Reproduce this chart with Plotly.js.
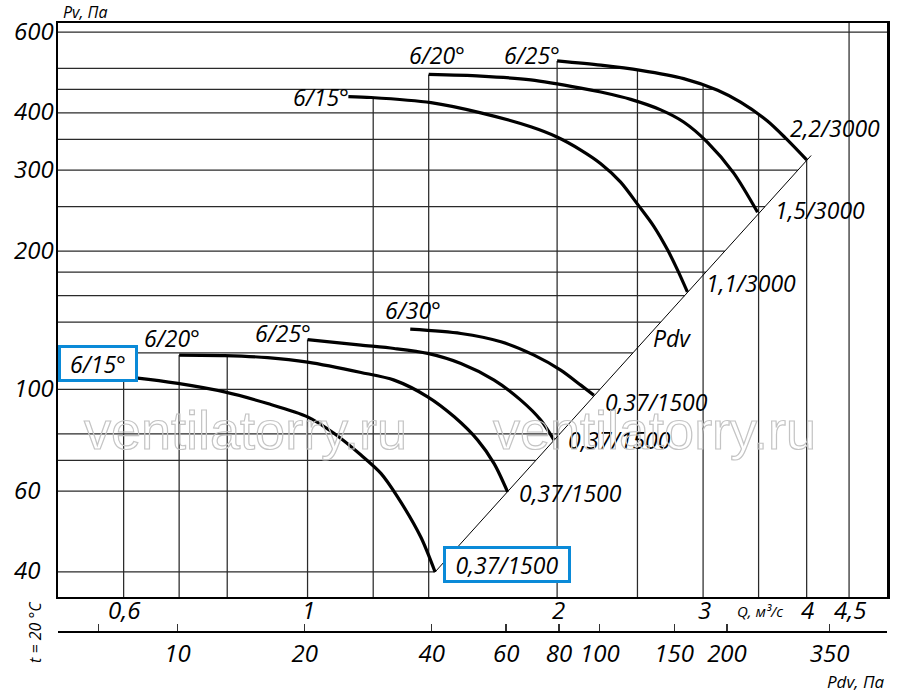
<!DOCTYPE html>
<html><head><meta charset="utf-8">
<script src="https://cdn.plot.ly/plotly-3.0.1.min.js"></script>
<style>html,body{margin:0;padding:0;background:#fff}#chart{width:900px;height:695px}</style>
</head><body><div id="chart"></div><script>
// ---- data (Q in m3/s, Pv in Pa) ----
const q_1500_15 = [0.6, 0.624, 0.6975, 0.794, 0.895, 1.0, 1.077, 1.16, 1.226, 1.284, 1.37, 1.425];
const p_1500_15 = [106.5, 105.8, 103.0, 98.7, 93.1, 87.1, 80.1, 71.9, 65.6, 58.3, 47.6, 40.0];
const q_1500_20 = [0.7, 0.794, 0.895, 1.0, 1.16, 1.272, 1.396, 1.503, 1.604, 1.679, 1.743];
const p_1500_20 = [118.7, 118.4, 117.2, 114.6, 108.8, 104.7, 96.3, 87.1, 77.5, 68.9, 59.8];
const q_1500_25 = [1.0, 1.16, 1.272, 1.396, 1.531, 1.679, 1.808, 1.911, 1.983];
const p_1500_25 = [128.3, 124.8, 122.7, 119.7, 113.8, 104.7, 94.7, 85.7, 77.5];
const q_1500_30 = [1.33, 1.531, 1.711, 1.876, 2.02, 2.136, 2.215];
const p_1500_30 = [135.2, 132.3, 126.9, 118.7, 110.1, 102.1, 97.1];
const q_3000_15 = [1.12, 1.193, 1.409, 1.618, 1.859, 2.002, 2.136, 2.258, 2.386, 2.508, 2.615, 2.719, 2.795, 2.872];
const p_3000_15 = [434, 432, 421, 400, 373, 354, 332, 310.1, 282.7, 251.2, 226.7, 201, 181.8, 163];
const q_3000_20 = [1.4, 1.618, 1.859, 2.136, 2.258, 2.454, 2.667, 2.842, 3.037, 3.265, 3.49];
const p_3000_20 = [485, 481, 472, 453, 444, 428, 406, 382, 345, 296, 243];
const q_3000_25 = [2.0, 2.258, 2.522, 2.842, 3.124, 3.329, 3.587, 3.781, 4.0];
const p_3000_25 = [519, 508, 495, 475, 448, 422, 384, 351, 316];
const q_pdv = [1.425, 4.05];
const p_pdv = [40, 323];

const gridP = [40, 60, 70, 80, 100, 120, 140, 160, 180, 200, 250, 300, 350, 400, 450, 500, 600];
const gridQ = [0.6, 0.7, 0.8, 1, 1.2, 1.4, 2, 2.5, 3, 3.5, 4, 4.5];
const yTickVals = [40, 60, 100, 200, 300, 400, 600];
const yTickText = ['40', '60', '100', '200', '300', '400', '600'];
const xTickVals = [0.6, 1, 2, 3, 4, 4.5];
const xTickText = ['0,6', '1', '2', '3', '4', '4,5'];
const pdvTickVals = [6.5, 10, 20, 40, 60, 80, 100, 150, 200, 350];
const pdvTickText = ['', '10', '20', '40', '60', '80', '100', '150', '200', '350'];

const curveLabels = ['6/15°', '6/20°', '6/25°', '6/30°', '6/15°', '6/20°', '6/25°'];
const motorLabels = ['0,37/1500', '0,37/1500', '0,37/1500', '0,37/1500', '1,1/3000', '1,5/3000', '2,2/3000'];

// ---- helpers ----
const L = Math.log10;
const QMIN = 0.5, QMAX = 5, PMIN = Math.pow(10, 1.5476), PMAX = Math.pow(10, 2.7978);
const curves = [
  [q_1500_15, p_1500_15], [q_1500_20, p_1500_20], [q_1500_25, p_1500_25], [q_1500_30, p_1500_30],
  [q_3000_15, p_3000_15], [q_3000_20, p_3000_20], [q_3000_25, p_3000_25]
];
const envCurves = curves.concat([[q_pdv, p_pdv]]);

function interp(xs, ys, v) {
  let best = null;
  for (let i = 0; i < xs.length - 1; i++) {
    const a = xs[i], b = xs[i + 1];
    const lo = Math.min(a, b) - 1e-9, hi = Math.max(a, b) + 1e-9;
    if (v >= lo && v <= hi) {
      const t = (L(v) - L(a)) / ((L(b) - L(a)) || 1);
      const r = Math.pow(10, L(ys[i]) + t * (L(ys[i + 1]) - L(ys[i])));
      if (best === null || r > best) best = r;
    }
  }
  return best;
}

// gridlines clipped at the envelope of the curves and the Pdv line
const gx = [], gy = [];
gridP.forEach(p => {
  let qe = null;
  envCurves.forEach(c => { const r = interp(c[1], c[0], p); if (r !== null && (qe === null || r > qe)) qe = r; });
  if (qe === null) qe = QMAX;
  gx.push(QMIN, qe, null); gy.push(p, p, null);
});
gridQ.forEach(q => {
  let pe = null;
  envCurves.forEach(c => { const r = interp(c[0], c[1], q); if (r !== null && (pe === null || r > pe)) pe = r; });
  if (pe === null) pe = PMAX;
  gx.push(q, q, null); gy.push(PMIN, pe, null);
});

const FONT = '"Open Sans", "DejaVu Sans", sans-serif';
const fnt = (s, c) => ({ family: FONT, size: s, color: c || '#000', style: 'italic' });

const traces = [];
traces.push({ x: gx, y: gy, mode: 'lines', line: { color: '#2a2a2a', width: 1.25 }, hoverinfo: 'skip', showlegend: false, connectgaps: false });
traces.push({ x: q_pdv, y: p_pdv, mode: 'lines', line: { color: '#000', width: 1 }, hoverinfo: 'skip', showlegend: false });
curves.forEach(c => traces.push({ x: c[0], y: c[1], mode: 'lines', line: { color: '#000', width: 3.2, shape: 'spline', smoothing: 0.8 }, hoverinfo: 'skip', showlegend: false }));
traces.push({ x: pdvTickVals, y: pdvTickVals.map(() => 100), xaxis: 'x2', yaxis: 'y', mode: 'markers', marker: { size: 0.1, opacity: 0 }, hoverinfo: 'skip', showlegend: false });

// label placement (Q, P) per curve: name label and motor label
const nameAt = [[0.558, 113.8], [0.686, 129.3], [0.934, 132.6], [1.340, 148.8], [1.038, 433], [1.433, 535], [1.866, 535]];
const motorAt = [[1.738, 41.6], [2.073, 59.4], [2.381, 77.5], [2.633, 93.8], [3.427, 170.4], [4.152, 245.8], [4.328, 370.8]];
const BLUE = '#0a8ad8';

const ann = [];
curveLabels.forEach((t, i) => {
  const a = { text: t, x: L(nameAt[i][0]), y: L(nameAt[i][1]), xref: 'x', yref: 'y', showarrow: false, font: fnt(23), xanchor: 'center', yanchor: 'middle' };
  if (i === 0) Object.assign(a, { bgcolor: '#fff', bordercolor: BLUE, borderwidth: 3, borderpad: 2, width: 70, height: 27 });
  ann.push(a);
});
motorLabels.forEach((t, i) => {
  const a = { text: t, x: L(motorAt[i][0]), y: L(motorAt[i][1]), xref: 'x', yref: 'y', showarrow: false, font: fnt(23), xanchor: 'center', yanchor: 'middle' };
  if (i === 0) Object.assign(a, { bgcolor: '#fff', bordercolor: BLUE, borderwidth: 3, borderpad: 2, width: 118, height: 27 });
  ann.push(a);
});
ann.push({ text: 'Pdv', x: L(2.752), y: L(129.3), xref: 'x', yref: 'y', showarrow: false, font: fnt(23), xanchor: 'center', yanchor: 'middle' });
yTickVals.forEach((v, i) => ann.push({ text: yTickText[i], x: -0.0555, xref: 'paper', y: L(v), yref: 'y', xanchor: 'left', yanchor: 'middle', yshift: 2, showarrow: false, font: fnt(24) }));
xTickVals.forEach((v, i) => ann.push({ text: xTickText[i], x: L(v), xref: 'x', y: 0.0502, yref: 'paper', xanchor: 'center', yanchor: 'middle', xshift: 1, showarrow: false, font: fnt(24) }));
const small = [
  ['Pv, Па', 0.0326, 1.0178, 16, 0],
  ['Q, м³/с', 0.8468, 0.047, 15, 0],
  ['Pdv, Па', 0.9614, -0.068, 17, 0],
  ['t = 20 °C', -0.0277, 0.013, 16, -90]
];
small.forEach(s => ann.push({ text: s[0], x: s[1], y: s[2], xref: 'paper', yref: 'paper', xanchor: 'center', yanchor: 'middle', showarrow: false, textangle: s[4], font: fnt(s[3]) }));
['ventilatorry.ru', 'ventilatorry.ru'].forEach((t, i) => ann.push({ text: t, x: [0.2256, 0.719][i], y: 0.3404, xref: 'paper', yref: 'paper', xanchor: 'center', yanchor: 'middle', showarrow: false, font: { family: '"Liberation Sans", Arial, sans-serif', size: 54, color: '#cfcfcf' } }));

const layout = {
  width: 900, height: 695,
  margin: { l: 58, r: 13, t: 23, b: 55 },
  paper_bgcolor: '#fff', plot_bgcolor: '#fff',
  showlegend: false,
  xaxis: {
    type: 'log', range: [L(QMIN), L(QMAX)], showgrid: false, zeroline: false,
    showline: true, mirror: true, linecolor: '#000', linewidth: 2.5,
    showticklabels: false, ticks: ''
  },
  xaxis2: {
    type: 'log', range: [0.717, 2.680], overlaying: 'x', anchor: 'free', position: 0.013, side: 'bottom',
    showgrid: false, zeroline: false, showline: true, linecolor: '#000', linewidth: 2.5,
    tickmode: 'array', tickvals: pdvTickVals, ticktext: pdvTickText, ticks: 'inside', ticklen: 7, tickwidth: 1.3, tickcolor: '#333',
    tickfont: fnt(24)
  },
  yaxis: {
    type: 'log', range: [1.5476, 2.7978], domain: [0.0697, 1], showgrid: false, zeroline: false,
    showline: true, mirror: true, linecolor: '#000', linewidth: 2.5, showticklabels: false, ticks: ''
  },
  annotations: ann
};

Plotly.newPlot('chart', traces, layout, { staticPlot: true, displayModeBar: false }).then(() => {
  document.querySelectorAll('.annotation-text').forEach(el => {
    if (el.textContent.indexOf('ventilatorry') >= 0) {
      el.style.setProperty('fill', 'none', 'important');
      el.style.setProperty('stroke', '#c4c4c4', 'important');
      el.style.setProperty('stroke-width', '1.2px', 'important');
    }
  });
});
</script></body></html>
